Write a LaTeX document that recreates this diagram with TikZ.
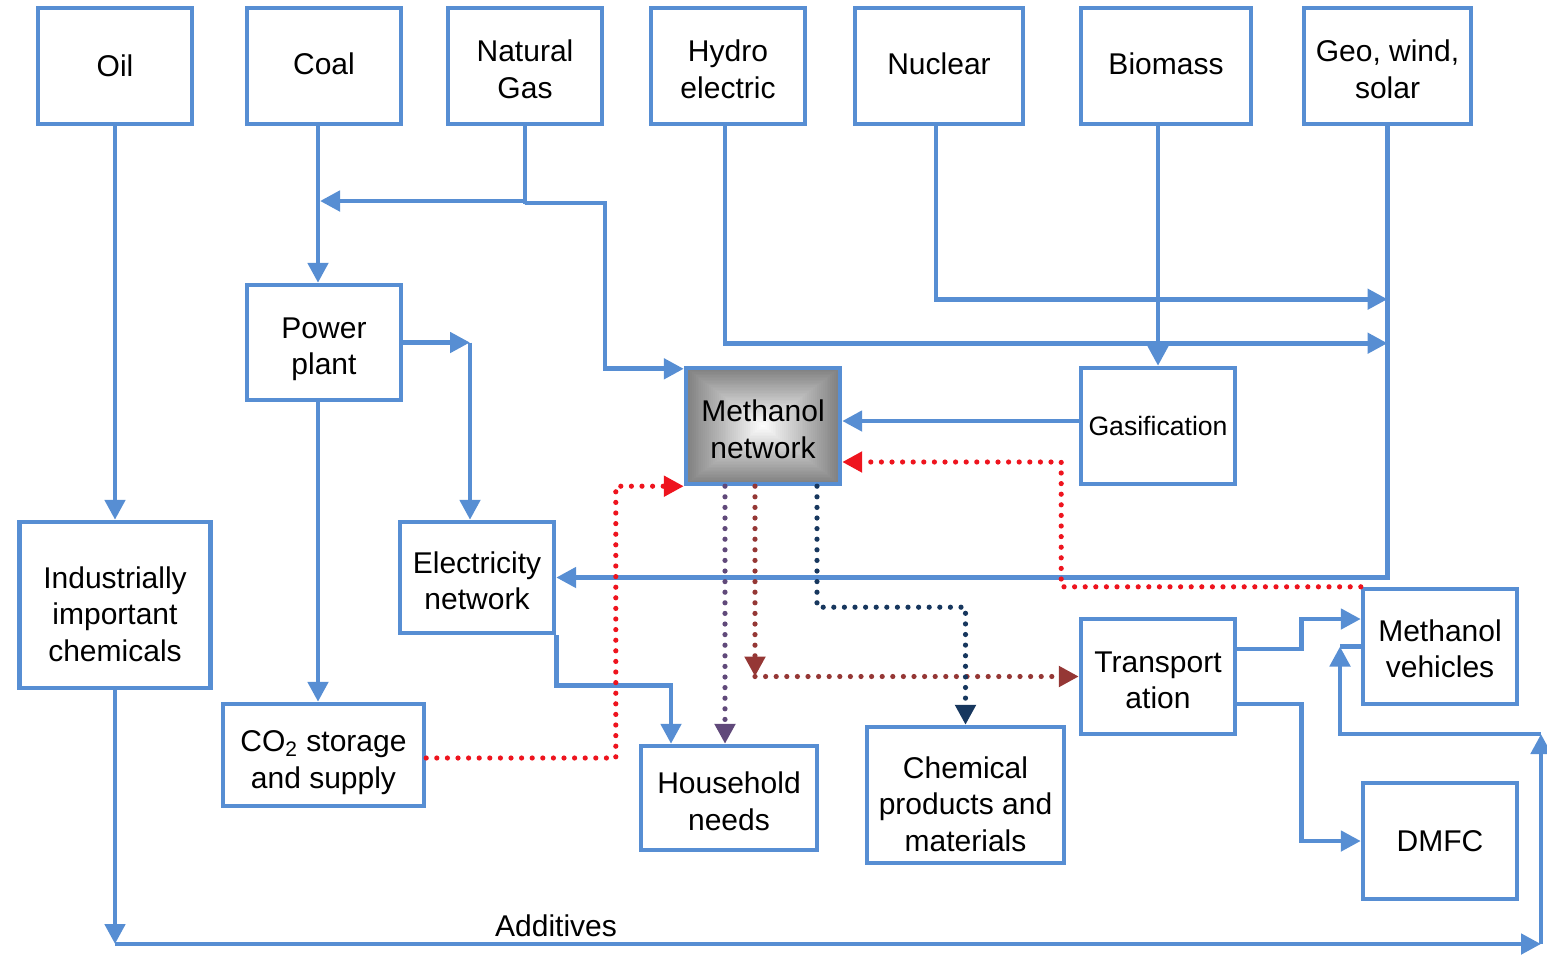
\documentclass[tikz,border=0pt]{standalone}
\usepackage{fontspec}
\setmainfont{Liberation Sans}
\usetikzlibrary{arrows.meta,calc}
\definecolor{flowblue}{RGB}{87,142,211}
\definecolor{dotred}{RGB}{238,20,30}
\definecolor{dotpurple}{RGB}{96,73,122}
\definecolor{dotbrown}{RGB}{149,55,53}
\definecolor{dotnavy}{RGB}{23,55,94}
% strut of a given height at the start of a first line: pushes a text block down in its box
\newcommand\topstrut[1]{\rule{0pt}{#1}}
\begin{document}
\begin{tikzpicture}[x=0.5pt,y=-0.5pt,
  box/.style 2 args={draw=flowblue, line width=2.2pt, minimum width=#1*0.5pt,
    minimum height=#2*0.5pt, inner sep=0pt, align=center,
    font=\fontsize{15}{18.3}\selectfont},
  % extra depth: moves a single line up a little
  lift/.style={execute at begin node={\rule[-2pt]{0pt}{2pt}}},
  flow/.style={draw=flowblue, line width=2.4pt, -{Triangle[length=10pt,width=10pt]}},
  plain/.style={draw=flowblue, line width=2.4pt},
  dots/.style={line width=2.6pt, line cap=round, dash pattern=on 0pt off 5.3pt,
    -{Triangle[length=10pt,width=10pt]}},
  rectshade/.style={path picture={
    \foreach \i in {0,...,40}{
      \pgfmathsetmacro{\f}{1-\i/40}
      \pgfmathsetmacro{\g}{50*\f}
      \fill[black!\g]
        ($(path picture bounding box.center)!\f!(path picture bounding box.south west)$)
        rectangle
        ($(path picture bounding box.center)!\f!(path picture bounding box.north east)$);
    }}},
]
\useasboundingbox (0,0) rectangle (1547,954);

% sources
\node[box={154}{116}]        (oil)     at (115,66)    {Oil};
\node[box={154}{116}, lift]  (coal)    at (324,66)    {Coal};
\node[box={154}{116}]        (gas)     at (525,66)    {\topstrut{14pt}Natural\\Gas};
\node[box={154}{116}]        (hydro)   at (728,66)    {\topstrut{14pt}Hydro\\electric};
\node[box={168}{116}, lift]  (nuclear) at (939,66)    {Nuclear};
\node[box={170}{116}, lift]  (biomass) at (1166,66)   {Biomass};
\node[box={167}{116}]        (geo)     at (1387.5,66) {\topstrut{14pt}Geo, wind,\\solar};

% conversion and use
\node[box={154}{115}] (power) at (324,342.5) {\topstrut{17pt}Power\\plant};
\node[box={154}{116}, rectshade] (meth) at (763,426) {\topstrut{14pt}Methanol\\network};
\node[box={154}{116}, font=\fontsize{13.3}{16}\selectfont] (gasif) at (1158,426) {Gasification};
\node[box={191}{166}] (ind)   at (115,605)    {\topstrut{20pt}Industrially\\important\\chemicals};
\node[box={154}{111}] (elec)  at (477,577.5)  {\topstrut{14pt}Electricity\\network};
\node[box={201}{102}] (co2)   at (323.5,755)  {\topstrut{18pt}CO\textsubscript{2} storage\\and supply};
\node[box={176}{104}] (house) at (729,798)    {\topstrut{14pt}Household\\needs};
\node[box={197}{136}] (chem)  at (965.5,795)  {\topstrut{20pt}Chemical\\products and\\materials};
\node[box={154}{115}] (trans) at (1158,676.5) {\topstrut{14pt}Transport\\ation};
\node[box={154}{115}] (mveh)  at (1440,646.5) {\topstrut{13pt}Methanol\\vehicles};
\node[box={154}{116}] (dmfc)  at (1440,841)   {DMFC};

% junction points
\coordinate (gasj)  at (320,201);
\coordinate (ppj)   at (470,342.5);
\coordinate (addl)  at (115,944);
\coordinate (addr)  at (1541,944);
\coordinate (addu)  at (1541,734);
\coordinate (stub)  at (1340,646.5);
\coordinate (brj)   at (755,676.5);

% solid flows
\draw[flow] (oil.south) -- (ind.north);
\draw[flow] ($(coal.south)+(-6,0)$) -- ($(power.north)+(-6,0)$);
\draw[flow] (gas.south) |- (gasj);
\draw[flow] ($(gas.south)+(0,77)$) |- (605,203) |- ($(meth.north west)+(0,3)$);
\draw[flow] ($(hydro.south)+(-3,0)$) |- ($(geo.south)+(0,217)$);
\draw[flow] ($(nuclear.south)+(-3,0)$) |- ($(geo.south)+(0,173)$);
\draw[flow] (gasif.north |- biomass.south) -- (gasif.north);
\draw[flow] (geo.south) |- (elec.east);
\draw[flow] ($(gasif.west)+(0,-5)$) -- ($(meth.east)+(0,-5)$);
\draw[flow] (power.east) -- (ppj);
\draw[flow] (ppj) -- (ppj |- elec.north);
\draw[flow] ($(power.south)+(-6,0)$) -- ($(co2.north)+(-5.5,0)$);
\draw[flow] (elec.south east) -- ++(0,50) -| ($(house.north)+(-58,0)$);
\draw[flow] (ind.south) -- (addl);
\draw[flow] (addl) -- (addr);
\draw[flow] (addr) -- (addu);
\draw[flow] (addu) -| (stub);
\draw[plain] (stub) -- (mveh.west);
\draw[flow] ($(trans.east)+(0,-27.5)$) -- ++(64,0) |- ($(mveh.west)+(0,-27.5)$);
\draw[flow] ($(trans.east)+(0,27.5)$) -- ++(64,0) |- (dmfc.west);

\node[font=\fontsize{15}{18}\selectfont] (addtxt) at (556,926) {Additives};

% dotted methanol flows
\draw[dots, dotred] ($(co2.east)+(0,3)$) -| ($(meth.south west)+(-68,0)$) -- (meth.south west);
\draw[dots, dotred] (mveh.north west) -| ($(meth.east)+(219,36)$) -- ($(meth.east)+(0,36)$);
\draw[dots, dotpurple] ($(meth.south)+(-38,0)$) -- ($(house.north)+(-4,0)$);
\draw[dots, dotbrown] ($(meth.south)+(-8,0)$) -- (brj);
\draw[dots, dotbrown] (brj) -- (trans.west);
\draw[dots, dotnavy] ($(meth.south)+(54,0)$) -- ++(0,121) -| (chem.north);
\end{tikzpicture}
\end{document}
